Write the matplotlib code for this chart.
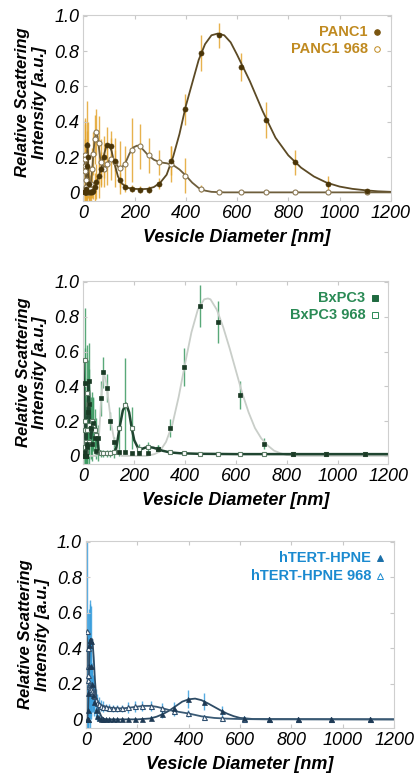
import numpy as np
import matplotlib
matplotlib.use("Agg")
import matplotlib.pyplot as plt

plt.rcParams['font.family'] = ['Liberation Sans', 'DejaVu Sans']

# bin centres (nm), shared by all panels
bins = [5, 6, 7, 8, 9, 10, 12, 14, 16, 18, 21, 24, 28, 33, 38, 44, 51, 59, 68, 79,
        91, 106, 122, 142, 164, 190, 220, 255, 295, 342, 396, 459, 531, 615, 712, 825, 955, 1106]

# ---- PANC1 ----
panc1 = [0, 0, 0, 0, 0, 0, 0.02, 0.15, 0.27, 0.2, 0.05, 0, 0, 0, 0.01, 0.03, 0.06, 0.09, 0.13, 0.2,
         0.27, 0.265, 0.18, 0.07, 0.03, 0.02, 0.015, 0.015, 0.05, 0.18, 0.47, 0.79, 0.89, 0.71, 0.41, 0.17, 0.05, 0.01]
panc1_err = [0.3, 0.1, 0.05, 0.05, 0.05, 0.05, 0.1, 0.2, 0.25, 0.2, 0.1, 0.03, 0.03, 0.03, 0.05, 0.08, 0.1, 0.12, 0.1, 0.12,
             0.1, 0.08, 0.06, 0.04, 0.03, 0.02, 0.02, 0.02, 0.03, 0.08, 0.09, 0.1, 0.07, 0.08, 0.1, 0.07, 0.04, 0.01]
panc1_968 = [0.21, 0.19, 0.15, 0.12, 0.07, 0.03, 0.01, 0, 0, 0, 0, 0.02, 0.05, 0.13, 0.22, 0.3, 0.34, 0.28, 0.17, 0.13,
             0.16, 0.19, 0.17, 0.14, 0.16, 0.24, 0.26, 0.21, 0.17, 0.16, 0.095, 0.02, 0, 0, 0, 0, 0, 0]
panc1_968_err = [0.2, 0.2, 0.15, 0.3, 0.2, 0.1, 0.05, 0.03, 0.03, 0.03, 0.05, 0.08, 0.1, 0.12, 0.12, 0.14, 0.13, 0.15, 0.13, 0.1,
                 0.12, 0.12, 0.14, 0.15, 0.1, 0.18, 0.13, 0.1, 0.07, 0.1, 0.1, 0.02, 0, 0, 0, 0, 0, 0]
# fitted curves
panc1_fit_x = [0, 8, 12, 16, 20, 25, 30, 40, 50, 60, 70, 80, 90, 100, 110, 120, 135, 150, 175, 200, 225, 250, 275,
               300, 325, 350, 375, 400, 425, 450, 475, 500, 525, 550, 575, 600, 650, 700, 750, 800, 850, 900,
               950, 1000, 1050, 1100, 1150, 1200]
panc1_fit_y = [0, 0, 0.05, 0.28, 0.1, 0, 0, 0.01, 0.05, 0.09, 0.14, 0.21, 0.265, 0.27, 0.235, 0.17, 0.09, 0.05, 0.025,
               0.02, 0.018, 0.02, 0.03, 0.055, 0.1, 0.2, 0.33, 0.49, 0.62, 0.75, 0.84, 0.89, 0.9, 0.89, 0.85, 0.78,
               0.63, 0.46, 0.31, 0.21, 0.14, 0.09, 0.055, 0.033, 0.02, 0.012, 0.006, 0.003]
panc1_968_fit_x = [0, 3, 6, 9, 12, 16, 20, 25, 30, 35, 40, 45, 50, 55, 60, 65, 70, 80, 90, 100, 110, 120, 135, 150,
                   165, 180, 195, 210, 225, 250, 275, 300, 325, 350, 375, 400, 425, 450, 475, 500, 550, 600, 1200]
panc1_968_fit_y = [0.21, 0.2, 0.16, 0.08, 0.02, 0, 0, 0.02, 0.06, 0.14, 0.24, 0.31, 0.34, 0.32, 0.26, 0.2, 0.17, 0.14,
                   0.15, 0.18, 0.195, 0.18, 0.145, 0.14, 0.17, 0.22, 0.255, 0.265, 0.255, 0.215, 0.185, 0.17, 0.165,
                   0.155, 0.13, 0.095, 0.055, 0.025, 0.01, 0.003, 0, 0, 0]

# ---- BxPC3 ----
bxpc3 = [0, 0.42, 0.02, 0, 0, 0, 0, 0.05, 0.07, 0.25, 0.43, 0.3, 0.16, 0.07, 0.19, 0.1, 0.03, 0.1, 0.33, 0.48,
         0.39, 0.2, 0.08, 0.02, 0.02, 0.015, 0.015, 0.015, 0.04, 0.16, 0.51, 0.86, 0.77, 0.35, 0.07, 0.01, 0.01, 0.01]
bxpc3_err = [0.3, 0.2, 0.1, 0.05, 0.05, 0.05, 0.05, 0.1, 0.15, 0.2, 0.22, 0.2, 0.15, 0.1, 0.15, 0.1, 0.05, 0.08, 0.1, 0.09,
             0.08, 0.05, 0.03, 0.02, 0.01, 0.01, 0.01, 0.01, 0.02, 0.05, 0.11, 0.12, 0.12, 0.08, 0.03, 0.005, 0.005, 0.005]
bxpc3_968 = [0.55, 0.2, 0.15, 0.05, 0, 0.02, 0.08, 0.15, 0.36, 0.3, 0.18, 0.08, 0.16, 0.2, 0.18, 0.15, 0.12, 0.02, 0.015, 0.015,
             0.015, 0.015, 0.02, 0.16, 0.29, 0.16, 0.04, 0.05, 0.04, 0.02, 0.015, 0.01, 0.01, 0.01, 0.01, 0.01, 0.01, 0.01]
bxpc3_968_err = [0.3, 0.25, 0.2, 0.15, 0.1, 0.1, 0.15, 0.2, 0.28, 0.25, 0.2, 0.15, 0.18, 0.17, 0.15, 0.12, 0.1, 0.05, 0.02, 0.02,
                 0.02, 0.02, 0.03, 0.12, 0.27, 0.12, 0.03, 0.03, 0.02, 0.01, 0.005, 0.005, 0.005, 0.005, 0.005, 0.005, 0.005, 0.005]
bxpc3_fit_x = [0, 50, 60, 70, 80, 90, 100, 110, 120, 130, 140, 150, 200, 250, 280, 300, 325, 350, 375, 400, 425,
               450, 475, 490, 500, 525, 550, 575, 600, 625, 650, 675, 700, 725, 750, 775, 800, 850, 1200]
bxpc3_fit_y = [0, 0, 0.08, 0.33, 0.48, 0.42, 0.3, 0.18, 0.1, 0.045, 0.015, 0, 0, 0, 0.01, 0.025, 0.08, 0.18, 0.34,
               0.53, 0.71, 0.84, 0.9, 0.905, 0.9, 0.84, 0.74, 0.62, 0.49, 0.36, 0.25, 0.16, 0.1, 0.06, 0.03, 0.015,
               0.005, 0, 0]
bxpc3_968_fit_x = [0, 3, 6, 9, 12, 15, 18, 21, 24, 27, 30, 35, 40, 45, 50, 55, 60, 70, 80, 100, 122, 130, 142, 155,
                   168, 180, 190, 200, 215, 230, 245, 260, 275, 290, 310, 340, 380, 450, 600, 1200]
bxpc3_968_fit_y = [0.55, 0.3, 0.15, 0.05, 0.05, 0.2, 0.35, 0.42, 0.3, 0.15, 0.1, 0.17, 0.2, 0.19, 0.15, 0.1, 0.03,
                   0.015, 0.015, 0.015, 0.02, 0.05, 0.16, 0.26, 0.3, 0.25, 0.16, 0.09, 0.045, 0.04, 0.048, 0.05,
                   0.047, 0.04, 0.03, 0.02, 0.015, 0.012, 0.01, 0.01]

# ---- hTERT-HPNE ----
hpne = [0, 0, 0, 0.05, 0.15, 0.3, 0.42, 0.45, 0.45, 0.44, 0.3, 0.2, 0.14, 0.1, 0.05, 0.02, 0.01, 0, 0, 0,
        0, 0, 0, 0, 0, 0, 0.003, 0.01, 0.03, 0.066, 0.114, 0.1, 0.047, 0.01, 0, 0, 0, 0]
hpne_err = [0.05, 0.1, 0.15, 0.2, 0.25, 0.2, 0.2, 0.22, 0.2, 0.2, 0.15, 0.12, 0.1, 0.08, 0.05, 0.03, 0.02, 0.01, 0.005, 0.005,
            0.005, 0.005, 0.005, 0.005, 0.005, 0.005, 0.005, 0.01, 0.02, 0.03, 0.05, 0.05, 0.03, 0.01, 0, 0, 0, 0]
hpne_968 = [0.5, 0.4, 0.3, 0.25, 0.22, 0.2, 0.19, 0.18, 0.18, 0.18, 0.17, 0.16, 0.15, 0.13, 0.11, 0.095, 0.085, 0.078, 0.072, 0.068,
            0.065, 0.063, 0.062, 0.063, 0.068, 0.073, 0.076, 0.075, 0.063, 0.047, 0.034, 0.015, 0.006, 0.002, 0, 0, 0, 0]
hpne_968_err = [0.5, 0.2, 0.2, 0.2, 0.18, 0.2, 0.2, 0.25, 0.2, 0.18, 0.15, 0.12, 0.1, 0.08, 0.06, 0.05, 0.04, 0.03, 0.03, 0.02,
                0.02, 0.02, 0.02, 0.02, 0.03, 0.03, 0.03, 0.03, 0.03, 0.03, 0.02, 0.01, 0.005, 0, 0, 0, 0, 0]
hpne_fit_x = [0, 5, 8, 10, 12, 15, 20, 25, 30, 35, 40, 50, 60, 70, 80, 100, 200, 250, 275, 300, 325, 350, 375, 400,
              425, 450, 475, 500, 525, 550, 575, 600, 650, 1200]
hpne_fit_y = [0, 0, 0.05, 0.15, 0.3, 0.44, 0.455, 0.45, 0.35, 0.22, 0.12, 0.05, 0.015, 0.003, 0, 0, 0, 0.005, 0.015,
              0.03, 0.05, 0.075, 0.1, 0.113, 0.117, 0.108, 0.09, 0.07, 0.05, 0.032, 0.018, 0.008, 0.002, 0]
hpne_968_fit_x = [0, 5, 10, 15, 20, 30, 40, 50, 60, 80, 100, 125, 150, 175, 200, 225, 250, 275, 300, 325, 350, 375,
                  400, 450, 500, 550, 600, 700, 1200]
hpne_968_fit_y = [0.5, 0.45, 0.22, 0.19, 0.18, 0.16, 0.12, 0.09, 0.08, 0.07, 0.065, 0.062, 0.063, 0.067, 0.072, 0.076,
                  0.076, 0.071, 0.062, 0.052, 0.045, 0.039, 0.033, 0.017, 0.008, 0.004, 0.002, 0, 0]

panels = [
    dict(rect=[0.200, 0.7404, 0.737, 0.2402], ylab_y=0.53,
         a=(panc1, panc1_err, panc1_fit_x, panc1_fit_y), b=(panc1_968, panc1_968_err, panc1_968_fit_x, panc1_968_fit_y),
         marker='o', ms=3.6, bar='#E3A52F', mk='#4A3508', open_ec='#8C7A55', line_a='#5C4A25', line_b='#6E5E3C',
         lw_a=1.3, lw_b=1.3, txt='#C08A20', leg_mk='#7A5510', labels=('PANC1', 'PANC1 968')),
    dict(rect=[0.200, 0.3997, 0.7314, 0.2367], ylab_y=0.5,
         a=(bxpc3, bxpc3_err, bxpc3_fit_x, bxpc3_fit_y), b=(bxpc3_968, bxpc3_968_err, bxpc3_968_fit_x, bxpc3_968_fit_y),
         marker='s', ms=3.0, bar='#3C9A62', mk='#1A3A25', open_ec='#5E7E68', line_a='#C9CEC9', line_b='#1F4530',
         lw_a=1.3, lw_b=1.8, txt='#2A8A55', leg_mk='#1F6A40', labels=('BxPC3', 'BxPC3 968')),
    dict(rect=[0.2062, 0.0586, 0.739, 0.2415], ylab_y=0.5,
         a=(hpne, hpne_err, hpne_fit_x, hpne_fit_y), b=(hpne_968, hpne_968_err, hpne_968_fit_x, hpne_968_fit_y),
         marker='^', ms=3.6, bar='#3A9EDC', mk='#1E3A55', open_ec='#2F4F6F', line_a='#2E4C66', line_b='#3A5A75',
         lw_a=1.3, lw_b=1.3, txt='#1A8AD0', leg_mk='#1A6FA8', labels=('hTERT-HPNE', 'hTERT-HPNE 968')),
]

fig = plt.figure(figsize=(4.17, 7.73), dpi=100)

for p in panels:
    ax = fig.add_axes(p['rect'])
    ya, ea, fxa, fya = p['a']
    yb, eb, fxb, fyb = p['b']

    # error bars
    ax.errorbar(bins, yb, yerr=eb, fmt='none', ecolor=p['bar'], elinewidth=1.0, alpha=0.85, zorder=1)
    ax.errorbar(bins, ya, yerr=ea, fmt='none', ecolor=p['bar'], elinewidth=1.0, alpha=0.85, zorder=1)

    # fitted lines
    ax.plot(fxa, fya, color=p['line_a'], lw=p['lw_a'], zorder=2)
    ax.plot(fxb, fyb, color=p['line_b'], lw=p['lw_b'], zorder=2)

    # markers
    ax.plot(bins, yb, p['marker'], ms=p['ms'], mfc='white', mec=p['open_ec'], mew=0.8, zorder=3)
    ax.plot(bins, ya, p['marker'], ms=p['ms'], mfc=p['mk'], mec=p['mk'], mew=0.5, zorder=4)

    ax.set_xlim(0, 1200)
    ax.set_ylim(-0.047, 1.005)
    ax.set_xticks(range(0, 1201, 200))
    ax.set_xticklabels([str(v) for v in range(0, 1201, 200)], fontsize=13, style='italic')
    ax.set_yticks([0, 0.2, 0.4, 0.6, 0.8, 1.0])
    ax.set_yticklabels(['0', '0.2', '0.4', '0.6', '0.8', '1.0'], fontsize=13, style='italic')
    ax.tick_params(direction='in', length=3, color='#c8c8c8', top=True, right=True, pad=3)
    for s in ax.spines.values():
        s.set_color('#cfcfcf')
        s.set_linewidth(0.8)

    ax.set_xlabel('Vesicle Diameter [nm]', fontsize=13, fontweight='bold', style='italic', labelpad=5)
    ax.set_ylabel('Relative Scattering\nIntensity [a.u.]', fontsize=12, fontweight='bold', style='italic',
                  linespacing=1.15)
    ax.yaxis.set_label_coords(-0.118, p['ylab_y'])

    # legend as coloured text with marker
    for k, (lab, yy) in enumerate(zip(p['labels'], [0.91, 0.815])):
        ax.text(0.925, yy, lab, transform=ax.transAxes, ha='right', va='center',
                fontsize=10.5, fontweight='bold', color=p['txt'])
        face = p['leg_mk'] if k == 0 else 'white'
        edge = p['leg_mk'] if k == 0 else p['txt']
        ax.plot([0.955], [yy], p['marker'], ms=4, mfc=face, mec=edge, mew=0.7,
                transform=ax.transAxes, clip_on=False)

fig.savefig('out.png', dpi=100, facecolor='white')
